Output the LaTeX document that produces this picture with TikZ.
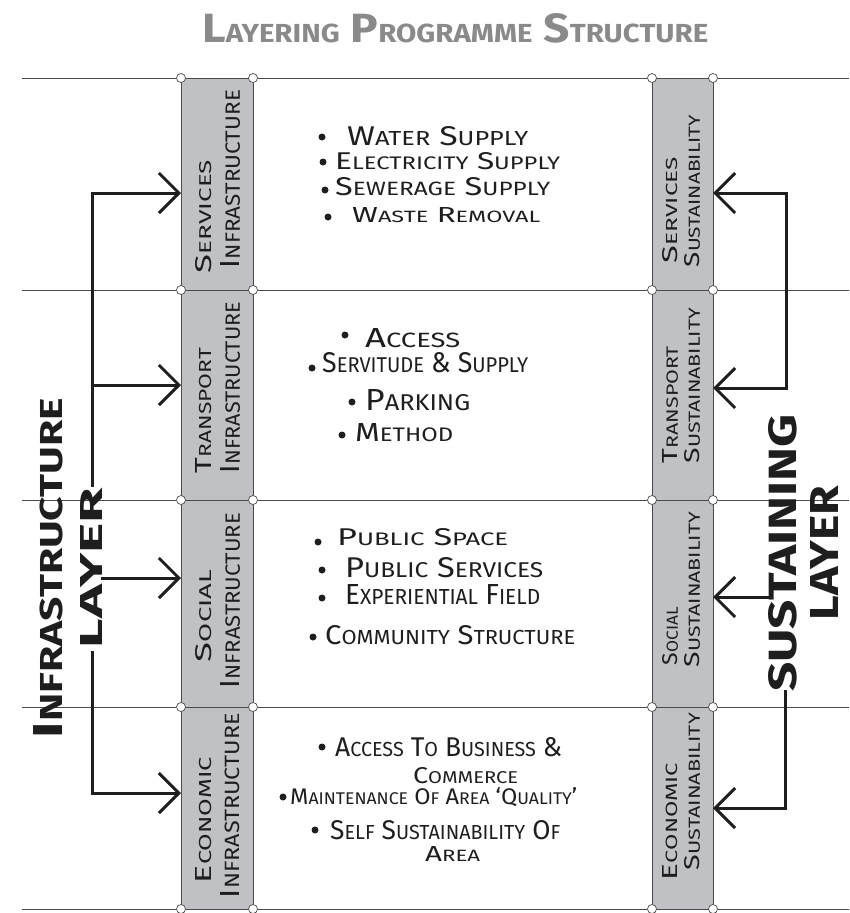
\documentclass[tikz,border=0pt]{standalone}
\usepackage{fontspec}
\setmainfont{Fira Sans}
\usepackage{graphicx}
\usetikzlibrary{arrows.meta}
\definecolor{ink}{HTML}{1E1E1E}
\definecolor{cellgray}{RGB}{192,193,196}
\definecolor{edgegray}{HTML}{4A4A4A}
\definecolor{titlegray}{HTML}{8A8A8A}
\newcommand\hwscale{0.75}
\def\hwaux#1#2\relax{#1\scalebox{\hwscale}{#2}}
\newcommand\hw[1]{\hwaux#1\relax}
\newcommand\tx[3]{\resizebox{#1pt}{#2pt}{#3}}
\begin{document}
\begin{tikzpicture}[x=1pt,y=-1pt,
  cell/.style={draw=edgegray, line width=0.9pt, fill=cellgray, inner sep=0pt, outer sep=0pt},
  knot/.style={circle, draw=edgegray, fill=white, line width=0.7pt, inner sep=0pt, minimum size=9pt},
  rule/.style={draw=edgegray, line width=1pt},
  lab/.style={rotate=90, inner sep=0pt, text=ink, align=left},
  txt/.style={inner sep=0pt, text=ink, anchor=base west},
  bul/.style={circle, fill=ink, inner sep=0pt, minimum size=7pt},
  big/.style={rotate=90, inner sep=0pt, text=ink, align=center},
  arr/.style={draw=ink, line width=3pt, line cap=rect, -{Straight Barb[length=20pt,width=40pt]}}
]
\useasboundingbox (0,0) rectangle (849,913);

% title
\node[txt, text=titlegray] (title) at (202,42)
  {\bfseries\def\hwscale{0.64}\tx{506}{29}{\hw{LAYERING} \hw{PROGRAMME} \hw{STRUCTURE}}};

% cells
\node[cell, minimum width=72pt, minimum height=212pt] (CL1) at (217,184) {};
\node[cell, minimum width=72pt, minimum height=210pt] (CL2) at (217,395) {};
\node[cell, minimum width=72pt, minimum height=207pt] (CL3) at (217,603.5) {};
\node[cell, minimum width=72pt, minimum height=202pt] (CL4) at (217,808) {};
\node[cell, minimum width=61pt, minimum height=212pt] (CR1) at (682.5,184) {};
\node[cell, minimum width=61pt, minimum height=210pt] (CR2) at (682.5,395) {};
\node[cell, minimum width=61pt, minimum height=207pt] (CR3) at (682.5,603.5) {};
\node[cell, minimum width=61pt, minimum height=202pt] (CR4) at (682.5,808) {};

% knots and horizontal rules
\foreach \i/\y in {0/78,1/290,2/500,3/707,4/909}{
  \coordinate (eL\i) at (22,\y);
  \coordinate (eR\i) at (849,\y);
  \node[knot] (a\i) at (181,\y) {};
  \node[knot] (b\i) at (253,\y) {};
  \node[knot] (c\i) at (652,\y) {};
  \node[knot] (d\i) at (713,\y) {};
  \draw[rule] (eL\i) -- (a\i);
  \draw[rule] (b\i) -- (c\i);
  \draw[rule] (d\i) -- (eR\i);
}

% column labels (left)
\node[lab, font=\fontsize{10}{28}\selectfont] (TL1) at (218,181.5)
  {\tx{113}{16}{\hw{SERVICES}}\\\hspace*{5pt}\tx{178}{19}{\hw{INFRASTRUCTURE}}};
\node[lab, font=\fontsize{10}{28}\selectfont] (TL2) at (218,387.5)
  {\tx{125}{16}{\hw{TRANSPORT}}\\\tx{171}{19}{\hw{INFRASTRUCTURE}}};
\node[lab, font=\fontsize{10}{28}\selectfont] (TL3) at (218,600.5)
  {\hspace*{26pt}\tx{92}{16}{\hw{SOCIAL}}\\\tx{175}{19}{\hw{INFRASTRUCTURE}}};
\node[lab, font=\fontsize{10}{28}\selectfont] (TL4) at (218,805.5)
  {\hspace*{15pt}\tx{126}{16}{\hw{ECONOMIC}}\\\tx{185}{19}{\hw{INFRASTRUCTURE}}};

% column labels (right)
\node[lab, font=\fontsize{10}{22}\selectfont] (TR1) at (681.5,191)
  {\hspace*{4pt}\tx{106}{15}{\hw{SERVICES}}\\\tx{152}{15}{\hw{SUSTAINABILITY}}};
\node[lab, font=\fontsize{10}{22}\selectfont] (TR2) at (681.5,385.5)
  {\tx{117}{15}{\hw{TRANSPORT}}\\\tx{155}{15}{\hw{SUSTAINABILITY}}};
\node[lab, font=\fontsize{10}{22}\selectfont] (TR3) at (681.5,589.5)
  {\hspace*{2pt}\tx{58}{15}{\hw{SOCIAL}}\\\tx{155}{15}{\hw{SUSTAINABILITY}}};
\node[lab, font=\fontsize{10}{22}\selectfont] (TR4) at (681.5,796.5)
  {\tx{117}{15}{\hw{ECONOMIC}}\\\hspace*{10pt}\tx{157}{15}{\hw{SUSTAINABILITY}}};

% layer labels
\node[big, font=\bfseries\fontsize{10}{40}\selectfont] (IL) at (67.5,568)
  {\def\hwscale{0.76}\tx{340}{29}{\hw{INFRASTRUCTURE}}\\\tx{160}{22}{LAYER}};
\node[big, font=\bfseries\fontsize{10}{42}\selectfont] (SL) at (803,553)
  {\tx{277}{28}{SUSTAINING}\\\tx{134}{28}{LAYER}};

% bullets
\foreach \n/\x/\y in {b11/322/137, b12/323/162, b13/325/190, b14/328/217,
                      b21/345/335, b22/312/368, b23/352/402, b24/342/435,
                      b31/318/542, b32/322/570, b33/322/598, b34/313/637,
                      b41/322/747, b43/283/797, b44/315/830}
  \node[bul] (\n) at (\x,\y) {};

% list texts
\node[txt] (t11) at (347,145) {\tx{181}{19}{\hw{WATER} \hw{SUPPLY}}};
\node[txt] (t12) at (335,169) {\tx{225}{17}{\hw{ELECTRICITY} \hw{SUPPLY}}};
\node[txt] (t13) at (335,195) {\tx{215}{18}{\hw{SEWERAGE} \hw{SUPPLY}}};
\node[txt] (t14) at (352,222) {\tx{188}{15}{\hw{WASTE} \hw{REMOVAL}}};

\node[txt] (t21) at (365,347) {\tx{95}{19}{\hw{ACCESS}}};
\node[txt] (t22) at (322,372) {\tx{206}{20}{\hw{SERVITUDE} \& \hw{SUPPLY}}};
\node[txt] (t23) at (365,410) {\tx{105}{21}{\hw{PARKING}}};
\node[txt] (t24) at (355,441) {\tx{98}{18}{\hw{METHOD}}};

\node[txt] (t31) at (337,545) {\tx{171}{17}{\hw{PUBLIC} \hw{SPACE}}};
\node[txt] (t32) at (345,577) {\tx{198}{20}{\hw{PUBLIC} \hw{SERVICES}}};
\node[txt] (t33) at (345,604) {\tx{195}{20}{\hw{EXPERIENTIAL} \hw{FIELD}}};
\node[txt] (t34) at (325,644) {\tx{250}{19}{\hw{COMMUNITY} \hw{STRUCTURE}}};

\node[txt] (t41) at (335,756) {\tx{227}{19}{\hw{ACCESS} \hw{TO} \hw{BUSINESS} \&}};
\node[txt] (t42) at (413,783) {\tx{105}{16}{\hw{COMMERCE}}};
\node[txt] (t43) at (290,804) {\tx{287}{17}{\hw{MAINTENANCE} \hw{OF} \hw{AREA} `\hw{QUALITY}'}};
\node[txt] (t44) at (330,839) {\tx{230}{19}{\hw{SELF} \hw{SUSTAINABILITY} \hw{OF}}};
\node[txt] (t45) at (425,861) {\tx{55}{15}{\hw{AREA}}};

% left connectors
\coordinate (tl1) at (92,193);
\coordinate (tl2) at (92,385);
\coordinate (tlm) at (92,485);
\coordinate (tln) at (92,652);
\coordinate (tl4) at (92,793);
\draw[arr] (tlm) -- (tl1) -- (tl1 -| CL1.west);
\draw[arr] (tl2) -- (tl2 -| CL2.west);
\draw[arr] ([yshift=-10pt]IL.south) -- ([yshift=-10pt]IL.south -| CL3.west);
\draw[arr] (tln) -- (tl4) -- (tl4 -| CL4.west);

% right connectors
\coordinate (tr1) at (786,193);
\coordinate (tr2) at (786,388);
\coordinate (tr4) at (785,808);
\draw[arr] (tr2) -- (tr1) -- (tr1 -| CR1.east);
\draw[arr] (tr2) -- (tr2 -| CR2.east);
\draw[arr] ([yshift=-44pt]SL.north) -- ([yshift=-44pt]SL.north -| CR3.east);
\draw[arr] ([xshift=-18pt]SL.west) -- (tr4) -- (tr4 -| CR4.east);
\end{tikzpicture}
\end{document}
